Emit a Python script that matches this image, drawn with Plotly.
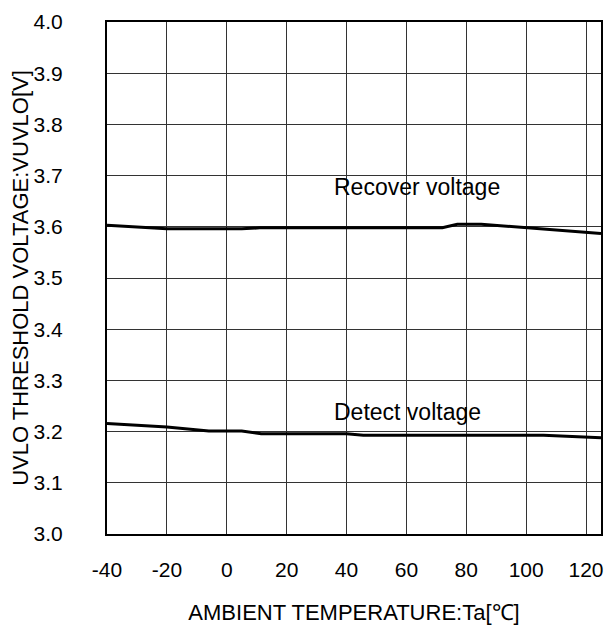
import plotly.graph_objects as go

temps_recover = [-40, -20, 5, 11, 72, 77, 85, 125]
recover_v = [3.603, 3.596, 3.596, 3.598, 3.598, 3.605, 3.605, 3.587]

temps_detect = [-40, -20, -6, 5, 11.5, 40, 45.6, 105.8, 125]
detect_v = [3.216, 3.209, 3.201, 3.201, 3.196, 3.196, 3.193, 3.193, 3.188]

x_ticks = [-40, -20, 0, 20, 40, 60, 80, 100, 120]
y_ticks = [3.0, 3.1, 3.2, 3.3, 3.4, 3.5, 3.6, 3.7, 3.8, 3.9, 4.0]

font = "Liberation Sans, Arial, sans-serif"

fig = go.Figure()
fig.add_trace(go.Scatter(x=temps_recover, y=recover_v, mode="lines",
                         line=dict(color="black", width=3), showlegend=False))
fig.add_trace(go.Scatter(x=temps_detect, y=detect_v, mode="lines",
                         line=dict(color="black", width=3), showlegend=False))

fig.add_annotation(x=35.0, y=3.677, text="Recover voltage", showarrow=False,
                   xanchor="left", yanchor="middle", font=dict(family=font, size=23, color="black"))
fig.add_annotation(x=35.0, y=3.238, text="Detect voltage", showarrow=False,
                   xanchor="left", yanchor="middle", font=dict(family=font, size=23, color="black"))

fig.update_layout(
    width=597, height=617,
    margin=dict(l=99, r=4, t=14, b=91),
    paper_bgcolor="white", plot_bgcolor="white",
    font=dict(family=font, size=21, color="black"),
    xaxis=dict(range=[-40, 125], tickvals=x_ticks, ticktext=[str(v) for v in x_ticks],
               showgrid=True, gridcolor="#333", gridwidth=1,
               showline=True, linecolor="black", linewidth=2, mirror=True,
               zeroline=False, ticks="", ticklen=0, ticklabelstandoff=16,
               automargin=False,
               title=dict(text="AMBIENT TEMPERATURE:Ta[℃]", font=dict(size=22), standoff=24)),
    yaxis=dict(range=[3.0, 4.0], tickvals=y_ticks, ticktext=[f"{v:.1f}" for v in y_ticks],
               showgrid=True, gridcolor="#333", gridwidth=1,
               showline=True, linecolor="black", linewidth=2, mirror=True,
               zeroline=False, ticks="", ticklen=0, ticklabelstandoff=38,
               automargin=False,
               title=dict(text="UVLO THRESHOLD VOLTAGE:VUVLO[V]", font=dict(size=22), standoff=2)),
)

fig.write_html("out.html")
